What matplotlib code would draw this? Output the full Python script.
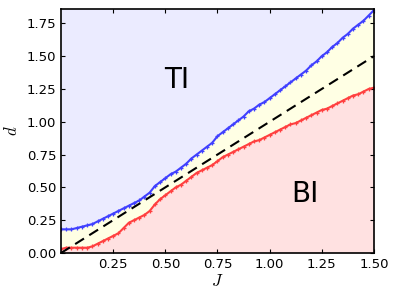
import numpy as np
import matplotlib
matplotlib.use("Agg")
import matplotlib.pyplot as plt

plt.rcParams['mathtext.fontset'] = 'cm'

J = np.round(np.arange(0, 61) * 0.025, 4)

d_upper = [0.18, 0.18, 0.18, 0.19, 0.20, 0.21, 0.22, 0.24, 0.26, 0.28,
           0.30, 0.32, 0.34, 0.36, 0.38, 0.40, 0.43, 0.46, 0.51, 0.54,
           0.57, 0.60, 0.62, 0.65, 0.68, 0.72, 0.75, 0.78, 0.81, 0.84,
           0.89, 0.92, 0.95, 0.98, 1.01, 1.04, 1.08, 1.10, 1.13, 1.15,
           1.18, 1.21, 1.24, 1.27, 1.30, 1.33, 1.36, 1.39, 1.43, 1.46,
           1.50, 1.53, 1.57, 1.60, 1.64, 1.67, 1.71, 1.74, 1.77, 1.81,
           1.85]

d_lower = [0.03, 0.04, 0.04, 0.04, 0.04, 0.04, 0.05, 0.07, 0.09, 0.11,
           0.13, 0.15, 0.19, 0.23, 0.25, 0.27, 0.29, 0.32, 0.37, 0.41,
           0.44, 0.47, 0.50, 0.52, 0.55, 0.58, 0.61, 0.63, 0.65, 0.67,
           0.70, 0.73, 0.75, 0.77, 0.79, 0.81, 0.83, 0.85, 0.86, 0.88,
           0.90, 0.92, 0.94, 0.96, 0.98, 0.99, 1.01, 1.03, 1.05, 1.07,
           1.09, 1.10, 1.12, 1.14, 1.16, 1.18, 1.20, 1.21, 1.23, 1.25,
           1.26]

x_ticks = [0.25, 0.50, 0.75, 1.00, 1.25, 1.50]
y_ticks = [0.00, 0.25, 0.50, 0.75, 1.00, 1.25, 1.50, 1.75]
ymax = 1.86

fig = plt.figure(figsize=(3.99, 2.99), dpi=100)
ax = fig.add_axes([0.153, 0.154, 0.784, 0.816])

J_arr = np.array(J)
up = np.array(d_upper)
lo = np.array(d_lower)

ax.fill_between(J_arr, up, ymax, color='#ebebff', lw=0, zorder=0)
ax.fill_between(J_arr, lo, up, color='#ffffe4', lw=0, zorder=0)
ax.fill_between(J_arr, 0, lo, color='#ffe1e1', lw=0, zorder=0)

ax.plot(J_arr, up, color='#4040ff', marker='+', ms=3.5, mew=0.9, lw=1.5, zorder=2)
ax.plot(J_arr, lo, color='#ff4040', marker='+', ms=3.5, mew=0.9, lw=1.5, zorder=2)
ax.plot([0, 1.5], [0, 1.5], color='black', ls='--', lw=1.5, dashes=(5, 3), zorder=3)

ax.text(0.556, 1.32, 'TI', fontsize=20, ha='center', va='center')
ax.text(1.17, 0.45, 'BI', fontsize=20, ha='center', va='center')

ax.set_xlim(0, 1.5)
ax.set_ylim(0, ymax)
ax.set_xticks(x_ticks)
ax.set_yticks(y_ticks)
ax.tick_params(direction='in', top=True, right=True, labelsize=9.5, length=3)
ax.set_xlabel('$J$', fontsize=12, labelpad=1)
ax.set_ylabel('$d$', fontsize=12, labelpad=4)
for s in ax.spines.values():
    s.set_linewidth(1.2)

fig.savefig('out.png', dpi=100)
